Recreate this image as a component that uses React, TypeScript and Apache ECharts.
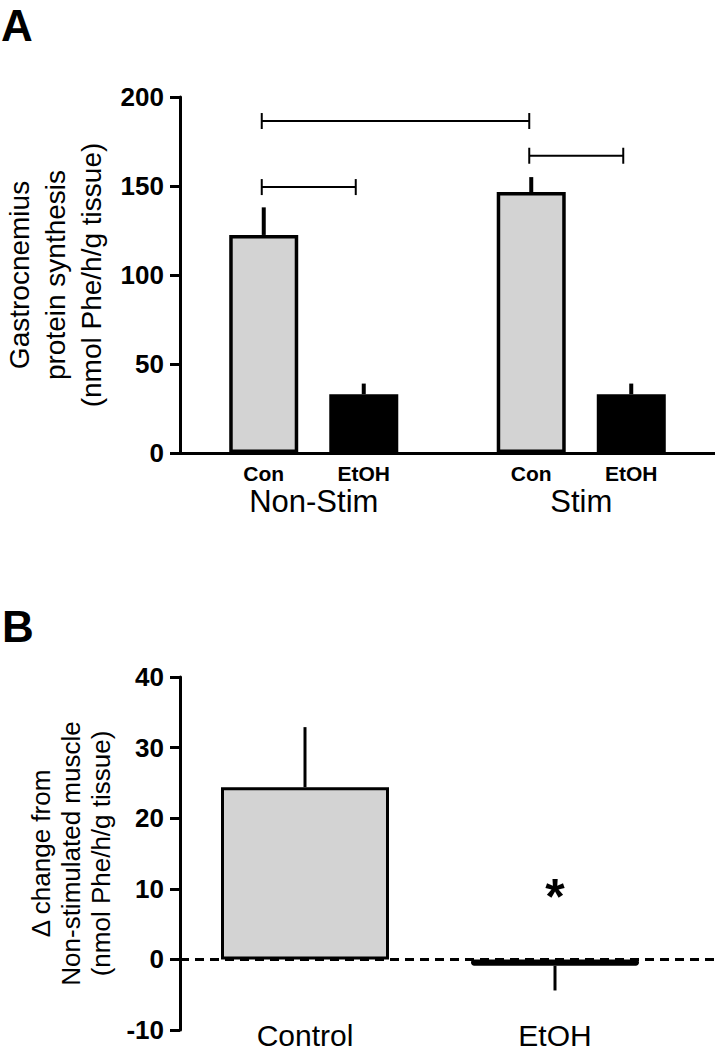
import React, { useEffect, useRef } from "react";
import * as echarts from "echarts";

const FONT = "'Liberation Sans', Arial, Helvetica, sans-serif";

// ---------- Panel A data ----------
const groupsA = ["Non-Stim", "Stim"];
const subLabelsA = ["Con", "EtOH"];
const conMeanA = [122.5, 146.6];
const conSemA = [15.5, 8.4];
const etohMeanA = [33, 33];
const etohSemA = [6, 6];
// brackets: [group, sub] -> [group, sub] at level
const bracketFrom = [[0, 0], [0, 0], [1, 0]];
const bracketTo = [[1, 0], [0, 1], [1, 1]];
const bracketLevel = [186.5, 149.4, 167];

// ---------- Panel B data ----------
const categoriesB = ["Control", "EtOH"];
const meanB = [24.4, -0.9];
const semB = [8.5, 3.5];
const starsB = ["", "*"];
const starLevelB = [0, 8.8];
const zeroLine = [[0, 0], [1, 0]];

const BAR_W_A = 69;
const SUB_OFF = 50;
const BR_OFF = [-52, 42];

export default function App() {
  const ref = useRef<HTMLDivElement>(null);

  useEffect(() => {
    document.body.style.margin = "0";
    const chart = echarts.init(ref.current!, null, { renderer: "svg" });

    const errDataA: number[][] = [];
    groupsA.forEach((_, i) => {
      errDataA.push([i, conMeanA[i], conSemA[i], 0]);
      errDataA.push([i, etohMeanA[i], etohSemA[i], 1]);
    });
    const bracketData = bracketLevel.map((lv, i) => [
      bracketFrom[i][0],
      lv,
      bracketFrom[i][1],
      bracketTo[i][0],
      bracketTo[i][1],
    ]);
    const errDataB = meanB.map((m, i) => [i, m, semB[i]]);
    const starData = starLevelB.map((lv, i) => [i, lv]);

    const tickLabel = {
      fontFamily: FONT,
      fontWeight: "bold" as const,
      fontSize: 26,
      color: "#000",
      margin: 16,
    };

    const option: any = {
      animation: false,
      backgroundColor: "#fff",
      textStyle: { fontFamily: FONT },
      graphic: [
        {
          type: "text",
          left: 1,
          top: 3,
          style: { text: "A", fontSize: 44, fontWeight: "bold", fontFamily: FONT, fill: "#000" },
        },
        {
          type: "text",
          left: 2,
          top: 604,
          style: { text: "B", fontSize: 44, fontWeight: "bold", fontFamily: FONT, fill: "#000" },
        },
      ],
      grid: [
        { left: 180, top: 97, width: 535, height: 356, outerBoundsMode: "none", containLabel: false },
        { left: 180, top: 677, width: 500, height: 353, outerBoundsMode: "none", containLabel: false },
        { left: 180, top: 677, right: 0, height: 353, outerBoundsMode: "none", containLabel: false },
      ],
      xAxis: [
        {
          type: "category",
          gridIndex: 0,
          data: groupsA,
          axisLine: { lineStyle: { color: "#000", width: 3 } },
          axisTick: { show: false },
          axisLabel: { fontFamily: FONT, fontSize: 31, color: "#000", margin: 33 },
        },
        {
          type: "category",
          gridIndex: 1,
          data: categoriesB,
          axisLine: { show: false, onZero: false },
          axisTick: { show: false },
          axisLabel: { fontFamily: FONT, fontSize: 30, color: "#000", margin: -10 },
        },
        { type: "value", gridIndex: 2, min: 0, max: 1, show: false },
      ],
      yAxis: [
        {
          type: "value",
          gridIndex: 0,
          min: 0,
          max: 200,
          interval: 50,
          splitLine: { show: false },
          axisLine: { show: true, lineStyle: { color: "#000", width: 3 } },
          axisTick: { show: true, length: 10, lineStyle: { color: "#000", width: 3 } },
          axisLabel: tickLabel,
          name: "Gastrocnemius\nprotein synthesis\n(nmol Phe/h/g tissue)",
          nameLocation: "middle",
          nameGap: 62,
          nameTextStyle: { fontFamily: FONT, fontSize: 28, lineHeight: 36, color: "#000" },
        },
        {
          type: "value",
          gridIndex: 1,
          min: -10,
          max: 40,
          interval: 10,
          splitLine: { show: false },
          axisLine: { show: true, lineStyle: { color: "#000", width: 3 } },
          axisTick: { show: true, length: 10, lineStyle: { color: "#000", width: 3 } },
          axisLabel: tickLabel,
          name: "\u0394 change from\nNon-stimulated muscle\n(nmol Phe/h/g tissue)",
          nameLocation: "middle",
          nameGap: 56,
          nameTextStyle: { fontFamily: FONT, fontSize: 26, lineHeight: 30, color: "#000" },
        },
        { type: "value", gridIndex: 2, min: -10, max: 40, show: false },
      ],
      series: [
        {
          name: subLabelsA[0],
          type: "bar",
          xAxisIndex: 0,
          yAxisIndex: 0,
          data: conMeanA,
          barWidth: BAR_W_A,
          barGap: "45%",
          itemStyle: { color: "#d3d3d3", borderColor: "#000", borderWidth: 3.5 },
          label: {
            show: true,
            position: "bottom",
            distance: 10,
            formatter: () => subLabelsA[0],
            fontFamily: FONT,
            fontWeight: "bold",
            fontSize: 21,
            color: "#000",
          },
          z: 2,
        },
        {
          name: subLabelsA[1],
          type: "bar",
          xAxisIndex: 0,
          yAxisIndex: 0,
          data: etohMeanA,
          barWidth: BAR_W_A,
          barGap: "45%",
          itemStyle: { color: "#000", borderColor: "#000", borderWidth: 3.5 },
          label: {
            show: true,
            position: "bottom",
            distance: 10,
            formatter: () => subLabelsA[1],
            fontFamily: FONT,
            fontWeight: "bold",
            fontSize: 21,
            color: "#000",
          },
          z: 2,
        },
        {
          type: "custom",
          xAxisIndex: 0,
          yAxisIndex: 0,
          data: errDataA,
          z: 3,
          renderItem: (_p: any, api: any) => {
            const g = api.value(0);
            const m = api.value(1);
            const s = api.value(2);
            const sub = api.value(3);
            const base = api.coord([g, m]);
            const top = api.coord([g, m + s]);
            const x = base[0] + (sub === 0 ? -SUB_OFF : SUB_OFF);
            return {
              type: "line",
              shape: { x1: x, y1: base[1], x2: x, y2: top[1] },
              style: { stroke: "#000", lineWidth: 4 },
            };
          },
        },
        {
          type: "custom",
          xAxisIndex: 0,
          yAxisIndex: 0,
          data: bracketData,
          z: 3,
          renderItem: (_p: any, api: any) => {
            const g1 = api.value(0);
            const lv = api.value(1);
            const s1 = api.value(2);
            const g2 = api.value(3);
            const s2 = api.value(4);
            const p1 = api.coord([g1, lv]);
            const p2 = api.coord([g2, lv]);
            const x1 = p1[0] + BR_OFF[s1];
            const x2 = p2[0] + BR_OFF[s2];
            const y = p1[1];
            const st = { stroke: "#000", lineWidth: 2 };
            return {
              type: "group",
              children: [
                { type: "line", shape: { x1, y1: y, x2, y2: y }, style: st },
                { type: "line", shape: { x1, y1: y - 8, x2: x1, y2: y + 8 }, style: st },
                { type: "line", shape: { x1: x2, y1: y - 8, x2, y2: y + 8 }, style: st },
              ],
            };
          },
        },
        // Panel B
        {
          type: "bar",
          xAxisIndex: 1,
          yAxisIndex: 1,
          barWidth: 168,
          data: meanB.map((v, i) => ({
            value: v,
            itemStyle:
              i === 0
                ? { color: "#d3d3d3", borderColor: "#000", borderWidth: 3 }
                : { color: "#000", borderColor: "#000", borderWidth: 4, borderRadius: 4 },
          })),
          z: 2,
        },
        {
          type: "line",
          xAxisIndex: 2,
          yAxisIndex: 2,
          data: zeroLine,
          symbol: "none",
          lineStyle: { color: "#000", width: 3, type: [9, 6] },
          z: 3,
        },
        {
          type: "custom",
          xAxisIndex: 1,
          yAxisIndex: 1,
          data: errDataB,
          z: 4,
          renderItem: (_p: any, api: any) => {
            const i = api.value(0);
            const m = api.value(1);
            const s = api.value(2);
            const base = api.coord([i, m]);
            const end = api.coord([i, m >= 0 ? m + s : m - s]);
            return {
              type: "line",
              shape: { x1: base[0], y1: base[1], x2: base[0], y2: end[1] },
              style: { stroke: "#000", lineWidth: 3 },
            };
          },
        },
        {
          type: "custom",
          xAxisIndex: 1,
          yAxisIndex: 1,
          data: starData,
          z: 4,
          renderItem: (p: any, api: any) => {
            const pt = api.coord([api.value(0), api.value(1)]);
            return {
              type: "text",
              x: pt[0],
              y: pt[1],
              style: {
                text: starsB[p.dataIndex],
                fontFamily: FONT,
                fontWeight: "bold",
                fontSize: 50,
                fill: "#000",
                align: "center",
                verticalAlign: "middle",
              },
            };
          },
        },
      ],
    };

    chart.setOption(option);
    return () => chart.dispose();
  }, []);

  return <div ref={ref} style={{ width: 715, height: 1050 }} />;
}
